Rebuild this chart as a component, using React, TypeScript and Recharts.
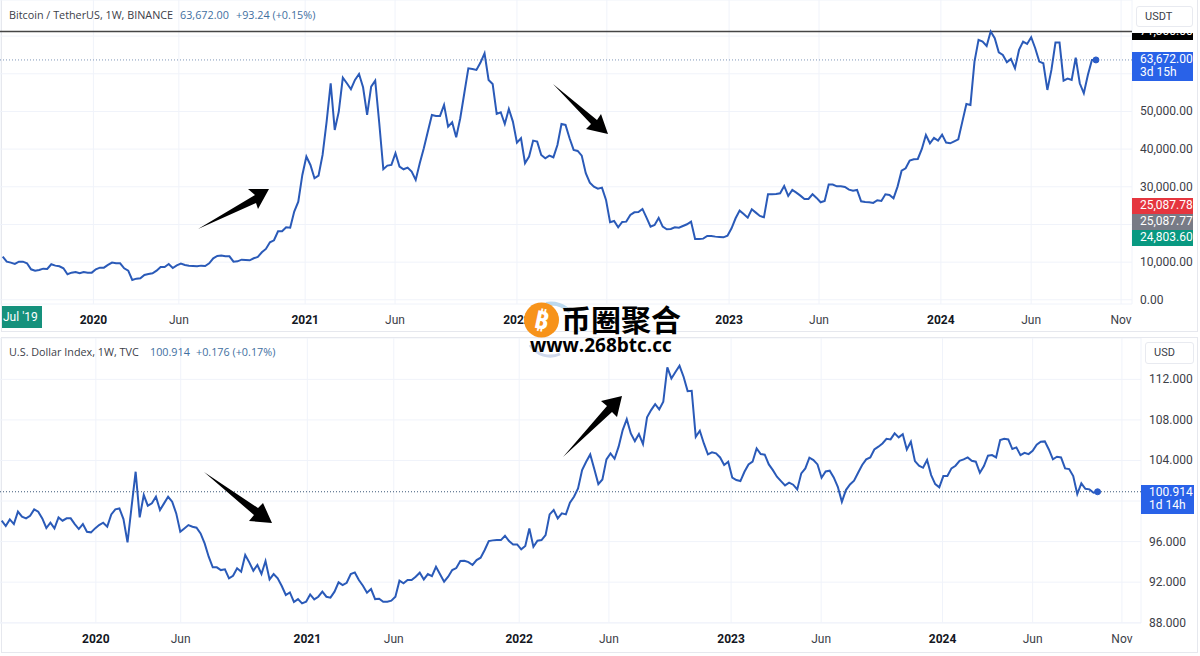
import React from "react"
import { CartesianGrid, Line, LineChart, ReferenceDot, ReferenceLine, XAxis, YAxis } from "recharts"

const FONT = "Roboto, 'Noto Sans', sans-serif"
const LEGEND_FONT = "'Open Sans', 'Noto Sans', sans-serif"
const CJK = "'Noto Sans CJK SC', sans-serif"
const LINE_BLUE = "#2a5ab8"
const GRID = "#f0f3fa"

// weekly closes
const btcValues = [
  11460, 10130, 9870, 9510, 10130, 10130, 9690, 8100, 7740, 7920, 8270, 8190, 9430, 9070, 8890, 8360, 6770, 7210, 7390, 7040,
  7390, 7210, 7210, 8100, 8540, 8540, 9250, 9870, 9690, 9690, 8360, 7740, 5270, 5620, 5710, 6590, 6860, 7040, 7740, 8720,
  8720, 9510, 8450, 9160, 9600, 9250, 9070, 8980, 8890, 9070, 8980, 9690, 11020, 11640, 11730, 11550, 11550, 10130, 10220, 10660,
  10580, 10490, 11020, 11370, 12610, 13500, 15270, 15800, 18190, 18190, 19250, 19160, 23410, 26060, 33140, 38010, 35800, 32260, 32970, 38450,
  47300, 57480, 45090, 49960, 58980, 57480, 55890, 58370, 59960, 56420, 49070, 56600, 58190, 46860, 34650, 35620, 35800, 38900, 35360, 34650,
  35090, 34030, 31820, 36240, 40220, 44650, 49070, 48810, 48810, 51730, 45980, 47130, 43140, 48190, 54830, 61460, 61280, 61020, 62970, 65450,
  58370, 57300, 49340, 49780, 46680, 50670, 47300, 41730, 42880, 36240, 38010, 42260, 41990, 38450, 37570, 38280, 37830, 41110, 46680, 46420,
  42880, 39780, 39520, 38280, 33590, 31110, 30050, 29510, 29780, 26510, 20580, 20930, 19250, 20670, 20750, 22520, 23230, 23320, 24120, 21810,
  19430, 19870, 21730, 19430, 18720, 18810, 19250, 19160, 19600, 20050, 20750, 16150, 16150, 16240, 16950, 16950, 16770, 16680, 16590, 17040,
  18980, 21640, 23670, 22790, 21810, 24030, 23140, 22260, 21900, 28010, 28010, 28100, 28280, 30220, 27570, 29160, 28450, 27660, 26770, 26770,
  28010, 27040, 25890, 26240, 30580, 30580, 30130, 30130, 29960, 29250, 28980, 29160, 26150, 25970, 25890, 25710, 26420, 26240, 28010, 27830,
  26950, 30050, 34290, 34910, 36950, 37300, 37390, 40050, 43760, 41550, 42970, 42260, 43850, 41730, 41550, 42080, 42610, 47300, 51990, 51730,
  63230, 68990, 68540, 67390, 71200, 69430, 65710, 65000, 63050, 63940, 61460, 66330, 68540, 67920, 69690, 66770, 63230, 62790, 55710, 61020,
  68280, 68280, 58190, 58720, 58370, 64300, 57480, 54830, 59690, 63670, 63672,
]

const dxyValues = [
  98.06, 97.53, 98.19, 97.73, 98.95, 98.45, 98.29, 98.55, 99.18, 98.95, 98.29, 97.34, 97.86, 97.3, 98.39, 98.06, 98.29, 98.29, 97.73, 97.24,
  97.73, 96.97, 96.91, 97.3, 97.63, 97.86, 97.47, 98.68, 99.18, 99.27, 98.22, 95.92, 99.44, 102.89, 98.39, 100.59, 99.54, 99.77, 100.42, 99.11,
  99.77, 100.42, 99.93, 98.78, 96.97, 97.3, 97.63, 97.47, 97.37, 96.81, 95.82, 94.51, 93.46, 93.46, 93.19, 93.26, 92.37, 92.63, 93.36, 93.03,
  94.67, 93.95, 93.13, 93.69, 92.8, 94.08, 92.27, 92.8, 92.37, 91.62, 90.73, 90.99, 90.04, 90.33, 89.91, 90.07, 90.79, 90.3, 90.56, 91.06,
  90.56, 90.47, 91.06, 91.98, 91.71, 91.94, 92.8, 92.96, 92.21, 91.65, 90.96, 91.32, 90.33, 90.37, 90.07, 90.07, 90.17, 90.56, 92.14, 91.88,
  92.21, 92.21, 92.54, 92.93, 92.27, 92.8, 92.6, 93.52, 92.77, 92.04, 92.54, 93.19, 93.39, 94.08, 94.11, 93.98, 93.69, 94.18, 94.41, 95.17,
  96.05, 96.12, 96.15, 96.15, 96.58, 96.05, 95.72, 95.72, 95.23, 95.56, 97.3, 95.49, 96.09, 96.15, 96.64, 98.68, 99.11, 98.29, 98.78, 98.68,
  99.83, 100.42, 101.25, 103.05, 103.88, 104.6, 103.15, 101.67, 102.13, 104.11, 104.7, 104.17, 105.36, 107.0, 108.08, 106.67, 105.91, 106.6, 105.62, 108.25,
  108.97, 109.56, 109.04, 109.79, 113.18, 112.09, 112.72, 113.34, 112.26, 110.84, 110.88, 106.34, 106.93, 105.68, 104.6, 104.8, 104.7, 104.3, 103.55, 103.88,
  102.3, 102.07, 101.97, 102.89, 103.61, 103.88, 105.19, 104.63, 104.57, 103.61, 103.05, 102.4, 101.97, 101.54, 101.81, 101.61, 101.15, 102.73, 103.22, 104.27,
  104.04, 103.61, 102.3, 102.92, 102.99, 102.33, 101.41, 99.93, 101.08, 101.64, 102.0, 102.79, 103.55, 104.11, 104.3, 105.09, 105.36, 105.68, 106.14, 106.08,
  106.67, 106.28, 106.6, 105.09, 105.85, 103.94, 103.48, 103.28, 104.04, 102.56, 101.67, 101.35, 102.46, 102.46, 103.22, 103.48, 103.97, 104.11, 104.3, 103.97,
  103.88, 102.79, 103.45, 104.47, 104.53, 104.3, 106.01, 106.14, 106.08, 105.13, 105.29, 104.53, 104.76, 104.63, 104.96, 105.55, 105.85, 105.88, 105.09, 104.11,
  104.37, 104.3, 103.22, 103.15, 102.46, 100.69, 101.74, 101.21, 101.15, 100.82, 100.914,
]

const timeLabels = ["2020", "Jun", "2021", "Jun", "2022", "Jun", "2023", "Jun", "2024", "Jun", "Nov"]
const btcTimeTicks = [22.4, 43.5, 74.7, 96.9, 127, 149.2, 179.4, 201.6, 231.7, 254, 276.2]
const dxyTimeTicks = [23.2, 44.1, 75.3, 96.6, 127.5, 149.6, 179.7, 201.9, 231.8, 254, 276]

const btcTicks = [0, 10000, 20000, 30000, 40000, 50000, 60000, 70000]
const dxyTicks = [88, 92, 96, 100, 104, 108, 112]
// these labels sit behind the price tags in the picture, only their grid lines show
const btcHiddenTicks = [20000, 60000, 70000]
const dxyHiddenTicks = [100]

const btcLast = 63672
const btcHigh = 71200
const dxyLast = 100.914

const btcData = btcValues.map((value, week) => ({ week, value }))
const dxyData = dxyValues.map((value, week) => ({ week, value }))

const makeTimeTick = (ticks: number[]) => (props: any) => {
  const { x, y, payload } = props
  const label = timeLabels[ticks.indexOf(payload.value)]
  const isYear = label && label.length === 4
  return (
    <text x={x} y={y + 12} textAnchor="middle" fontFamily={FONT} fontSize={12} fontWeight={isYear ? 700 : 400} fill={isYear ? "#131722" : "#3c4048"}>
      {label}
    </text>
  )
}

const btcFormat = (v: number) => (btcHiddenTicks.includes(v) ? "" : v.toLocaleString("en-US", { minimumFractionDigits: 2, maximumFractionDigits: 2 }))
const dxyFormat = (v: number) => (dxyHiddenTicks.includes(v) ? "" : v.toFixed(3))

const makePriceTick = (format: (v: number) => string) => (props: any) => {
  const { x, y, payload } = props
  // recharts adds its tick size to x even with tickLine off
  return (
    <text x={x - 6} y={y + 4} textAnchor="start" fontFamily={FONT} fontSize={12} fill="#3c4048">
      {format(payload.value)}
    </text>
  )
}

const Tag = ({ left, top, width, height, bg, lines }: { left: number; top: number; width: number; height: number; bg: string; lines: string[] }) => (
  <div style={{ position: "absolute", left, top, width, height, background: bg, color: "#fff", fontFamily: FONT, fontSize: 12, lineHeight: "13px", paddingLeft: 8, paddingTop: 1, boxSizing: "border-box", overflow: "hidden" }}>
    {lines.map((l) => (
      <div key={l}>{l}</div>
    ))}
  </div>
)

const UnitBox = ({ left, top, width, height, text }: { left: number; top: number; width: number; height: number; text: string }) => (
  <div style={{ position: "absolute", left, top, width, height, background: "#fff", border: "1px solid #e8eaf0", borderRadius: 3, boxSizing: "border-box", fontFamily: FONT, fontSize: 11, color: "#3c4048", lineHeight: `${height - 2}px`, paddingLeft: 8 }}>
    {text}
  </div>
)

const Legend = ({ top, name, price, change, priceLeft, changeLeft }: { top: number; name: string; price: string; change: string; priceLeft: number; changeLeft: number }) => (
  <div style={{ fontFamily: LEGEND_FONT, fontSize: 10.8, lineHeight: "14px" }}>
    <span style={{ position: "absolute", left: 9, top, color: "#3c4048", whiteSpace: "nowrap" }}>{name}</span>
    <span style={{ position: "absolute", left: priceLeft, top, color: "#3f6f9f", whiteSpace: "nowrap" }}>{price}</span>
    <span style={{ position: "absolute", left: changeLeft, top, color: "#3f6f9f", whiteSpace: "nowrap" }}>{change}</span>
  </div>
)

const Arrows = () => (
  <svg width={1200} height={656} style={{ position: "absolute", left: 0, top: 0 }}>
    <polygon points="198,229 255,195 248,189 269,189 258,209 256,203" fill="#000" />
    <polygon points="553,84 597,120 601,114 608,134 586,129 591,124" fill="#000" />
    <polygon points="204,472 258,508 263,503 272,523 249,521 254,515" fill="#000" />
    <polygon points="563,457 607,406 601,401 622,396 617,417 612,412" fill="#000" />
    {/* watermark logo */}
    <path d="M 546 304 A 26 26 0 0 1 570 312" fill="none" stroke="#bcd9ee" strokeWidth={4} />
    <path d="M 530 345 A 24 24 0 0 0 560 354" fill="none" stroke="#cfd8ec" strokeWidth={3} />
    <circle cx={541.5} cy={320} r={17.5} fill="#f7931a" />
    <text x={541.5} y={329} textAnchor="middle" fontFamily={LEGEND_FONT} fontSize={25} fontWeight={700} fill="#fff" transform="rotate(12 541.5 320)">
      ₿
    </text>
    <text x={561} y={331} fontFamily={CJK} fontSize={30} fontWeight={700} fill="#000">
      币圈聚合
    </text>
    <text x={530} y={352} fontFamily={LEGEND_FONT} fontSize={19} fontWeight={700} fill="#000">
      www.268btc.cc
    </text>
  </svg>
)

export default function App() {
  return (
    <div style={{ position: "absolute", left: 0, top: 0, width: 1200, height: 656, background: "#fff", overflow: "hidden" }}>
      <div style={{ position: "absolute", left: 1, top: -2, width: 1197, height: 334, border: "1px solid #e6e8ee", boxSizing: "border-box" }} />
      <div style={{ position: "absolute", left: 1, top: 337, width: 1197, height: 316, border: "1px solid #e6e8ee", boxSizing: "border-box" }} />

      <div style={{ position: "absolute", left: 0, top: 0 }}>
        <LineChart width={1200} height={334} data={btcData} margin={{ top: 0, right: 0, bottom: 0, left: 0 }}>
          <CartesianGrid stroke={GRID} />
          <XAxis dataKey="week" type="number" domain={[-0.667, 278.9]} ticks={btcTimeTicks} interval={0} height={30} axisLine={false} tickLine={false} tick={makeTimeTick(btcTimeTicks)} allowDataOverflow />
          <YAxis orientation="right" width={68} domain={[-1115, 79586]} ticks={btcTicks} interval={0} axisLine={false} tickLine={false} tickMargin={8} tick={makePriceTick(btcFormat)} allowDataOverflow />
          <ReferenceLine y={btcHigh} stroke="#454545" strokeWidth={1.5} />
          <ReferenceLine y={btcLast} stroke="#7f97b8" strokeDasharray="1 2" />
          <Line dataKey="value" stroke={LINE_BLUE} strokeWidth={2} dot={false} isAnimationActive={false} />
          <ReferenceDot x={270} y={btcLast} r={3} fill="#2a5cc8" stroke="#2a5cc8" />
        </LineChart>
      </div>

      <div style={{ position: "absolute", left: 0, top: 338 }}>
        <LineChart width={1200} height={314} data={dxyData} margin={{ top: 0, right: 0, bottom: 0, left: 0 }}>
          <CartesianGrid stroke={GRID} />
          <XAxis dataKey="week" type="number" domain={[-0.419, 280.7]} ticks={dxyTimeTicks} interval={0} height={29} axisLine={false} tickLine={false} tick={makeTimeTick(dxyTimeTicks)} allowDataOverflow />
          <YAxis orientation="right" width={59} domain={[87.97, 116.08]} ticks={dxyTicks} interval={0} axisLine={false} tickLine={false} tickMargin={8} tick={makePriceTick(dxyFormat)} allowDataOverflow />
          <ReferenceLine y={dxyLast} stroke="#3d5878" strokeDasharray="1 2" />
          <Line dataKey="value" stroke={LINE_BLUE} strokeWidth={2} dot={false} isAnimationActive={false} />
          <ReferenceDot x={270} y={dxyLast} r={3} fill="#2a5cc8" stroke="#2a5cc8" />
        </LineChart>
      </div>

      <Legend top={8} name="Bitcoin / TetherUS, 1W, BINANCE" price="63,672.00" change="+93.24 (+0.15%)" priceLeft={180} changeLeft={236} />
      <Legend top={345} name="U.S. Dollar Index, 1W, TVC" price="100.914" change="+0.176 (+0.17%)" priceLeft={150} changeLeft={196} />

      <div style={{ position: "absolute", left: 2, top: 306, width: 40, height: 22, background: "#15917c", color: "#fff", fontFamily: FONT, fontSize: 12, lineHeight: "22px", paddingLeft: 1, boxSizing: "border-box" }}>Jul '19</div>

      <div style={{ position: "absolute", left: 1132, top: 33, width: 61, height: 7, background: "#000", color: "#fff", fontFamily: FONT, fontSize: 12, overflow: "hidden" }}>
        <div style={{ position: "absolute", left: 8, top: -10, lineHeight: "16px" }}>71,300.00</div>
      </div>
      <UnitBox left={1136} top={6} width={57} height={21} text="USDT" />
      <Tag left={1132} top={52} width={61} height={29} bg="#2962e8" lines={["63,672.00", "3d 15h"]} />
      <Tag left={1132} top={198} width={61} height={16} bg="#e5363f" lines={["25,087.78"]} />
      <Tag left={1132} top={214} width={61} height={16} bg="#787b86" lines={["25,087.77"]} />
      <Tag left={1132} top={230} width={61} height={16} bg="#089981" lines={["24,803.60"]} />

      <UnitBox left={1145} top={342} width={49} height={22} text="USD" />
      <Tag left={1141} top={485} width={53} height={29} bg="#2962e8" lines={["100.914", "1d 14h"]} />

      <Arrows />
    </div>
  )
}
